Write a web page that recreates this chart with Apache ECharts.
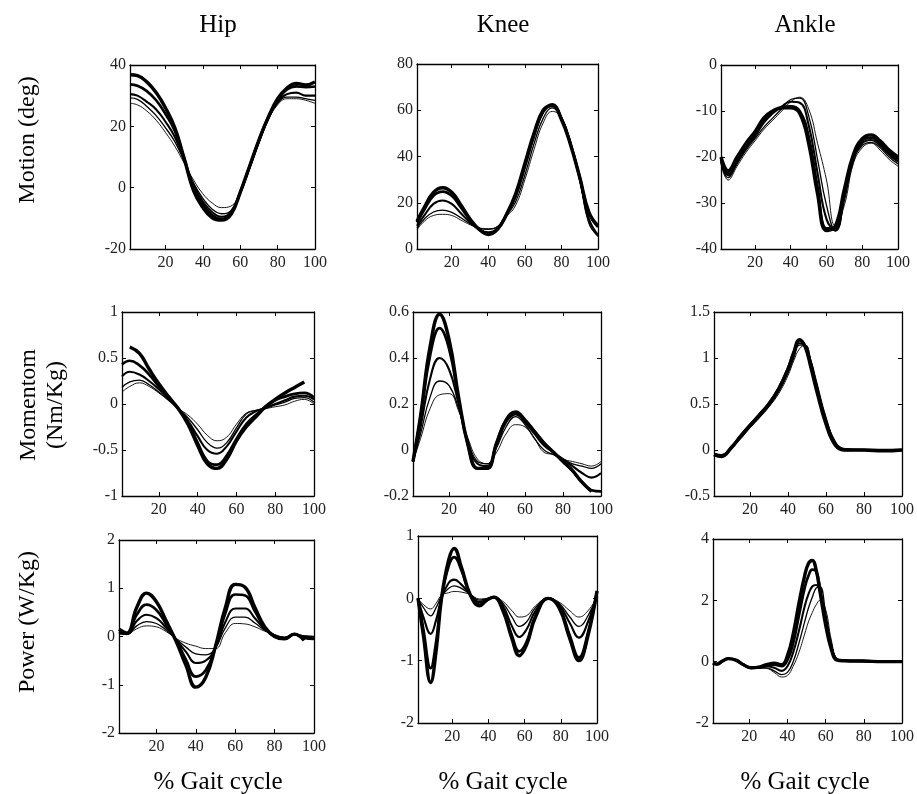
<!DOCTYPE html>
<html><head><meta charset="utf-8">
<script src="https://cdn.jsdelivr.net/npm/echarts@6/dist/echarts.min.js"></script>
<style>html,body{margin:0;padding:0;background:#fff}#c{width:917px;height:794px}</style>
</head><body><div id="c"></div><script>
// ---------- data ----------
const colTitles = ['Hip', 'Knee', 'Ankle'];
const rowTitles = ['Motion (deg)', 'Momentom\n(Nm/Kg)', 'Power (W/Kg)'];
const xLabel = '% Gait cycle';
const xTicks = [20, 40, 60, 80, 100];

const x5 = [1,5,10,15,20,25,30,35,40,45,50,55,60,65,70,75,80,85,90,95,100];

const hipMotion = [
  [36.8,36.5,34.5,31,26,19.5,9.5,-1,-6.5,-9.8,-10.6,-8.8,-1.5,7,15.5,23,29,32.5,34,33.5,34.5],
  [33.7,33.2,31.5,28.5,24,18.5,9.5,0,-5.5,-9,-10.2,-8.5,-1.5,7,15.5,23,28.5,32,33,32.8,33],
  [30.5,30,28,25.5,21.5,16.5,9,1,-4.5,-8,-9.5,-8,-1.5,6.5,15,22.5,28,30.5,31,30,30],
  [29.3,28.8,26.5,23.5,19.5,15,8.5,1.5,-3.5,-7,-8.5,-7.5,-1.5,6.5,15,22.5,27.5,29.5,29.5,29,28.5],
  [27.5,27,25,22,18,13.5,8,2.5,-2,-5,-6.5,-6,-1.5,6,14.5,22,27,29,29,28.5,27.5]
];
const kneeMotion = [
  [12,18,24.5,26.5,24.5,19,13,8.5,6.3,8.5,15,24,37,50,60,62,56,45,31,16,10],
  [11.5,17,23,24.8,23,18,12.5,8.5,6.5,8.5,15,23.5,36.5,49.5,59.5,62.5,56.5,45.5,31,15.5,9.5],
  [10,14.5,19.5,21,19.5,15.5,11.5,8.5,7.2,9,15,22.5,35,48.5,59,62,56.5,45.5,30.5,13,6],
  [9,13,16,16.8,15.8,13.5,11,9,8.5,9.5,14.5,20.5,32,45.5,56.5,61,57,46,30,11.5,5.5],
  [8.3,12,14.5,15,14.5,12.5,10.5,9,8.8,9.8,14,19,30,43,54.5,59.5,57,46,30,11,5.5]
];
const ankleMotion = [
  [-20,-23,-20,-17,-14.5,-11.5,-10,-9.3,-9.3,-10.5,-17,-28,-36,-35,-27,-19.5,-16,-15.2,-16.5,-18.5,-20],
  [-20.5,-23.5,-20.5,-17.5,-15,-12,-10.2,-9.2,-9,-10,-15.5,-26.5,-35.5,-35.5,-27.5,-20,-16.5,-15.8,-17,-19,-20.5],
  [-21,-24,-21,-18,-15.5,-12.5,-10.5,-9,-8,-8.2,-13,-23.5,-33.5,-36,-28.5,-20.5,-17,-16.3,-17.5,-19.5,-21],
  [-21,-24.5,-21.5,-18.5,-16,-13.5,-11.5,-9.5,-7.5,-7.2,-11,-20.5,-30.5,-36,-29.5,-21,-17.5,-16.8,-18,-20,-21.5],
  [-21.5,-25,-22,-19,-16.5,-14,-12,-10,-8,-7,-9.5,-17,-25,-35,-30.5,-21.5,-18,-17,-18.5,-20.5,-22]
];
const hipMoment = [
  [null,0.62,0.55,0.38,0.22,0.08,-0.05,-0.22,-0.45,-0.65,-0.70,-0.6,-0.4,-0.25,-0.14,-0.03,0.05,0.12,0.18,0.24,null],
  [0.43,0.47,0.42,0.32,0.19,0.07,-0.05,-0.2,-0.42,-0.62,-0.66,-0.56,-0.38,-0.22,-0.12,-0.03,0.04,0.08,0.11,0.12,0.07],
  [0.3,0.35,0.32,0.25,0.16,0.06,-0.05,-0.18,-0.35,-0.5,-0.54,-0.46,-0.3,-0.15,-0.08,-0.04,0.0,0.04,0.08,0.09,0.05],
  [0.18,0.24,0.26,0.21,0.13,0.04,-0.05,-0.15,-0.28,-0.42,-0.48,-0.42,-0.26,-0.11,-0.07,-0.05,-0.01,0.02,0.06,0.07,0.02],
  [0.13,0.19,0.23,0.19,0.12,0.04,-0.05,-0.12,-0.22,-0.34,-0.4,-0.36,-0.22,-0.1,-0.07,-0.05,-0.03,-0.01,0.03,0.05,0.0]
];
const kneeMoment = [
  [-0.05,0.15,0.45,0.59,0.48,0.23,0.02,-0.08,-0.08,0.03,0.13,0.165,0.13,0.08,0.03,-0.01,-0.05,-0.09,-0.14,-0.18,null],
  [-0.05,0.14,0.41,0.53,0.44,0.22,0.02,-0.08,-0.08,0.03,0.13,0.16,0.13,0.08,0.03,-0.01,-0.05,-0.09,-0.14,-0.175,-0.18],
  [-0.05,0.1,0.31,0.4,0.35,0.2,0.03,-0.06,-0.07,0.02,0.12,0.155,0.12,0.07,0.02,-0.01,-0.04,-0.07,-0.1,-0.12,-0.1],
  [-0.05,0.07,0.23,0.3,0.28,0.18,0.04,-0.05,-0.06,0.01,0.1,0.145,0.11,0.05,0.0,-0.02,-0.04,-0.06,-0.07,-0.08,-0.06],
  [-0.05,0.05,0.18,0.24,0.245,0.17,0.05,-0.04,-0.06,-0.01,0.07,0.11,0.1,0.05,-0.01,-0.02,-0.04,-0.05,-0.06,-0.07,-0.05]
];
const xAnkleMoment = [1,5,10,15,20,25,30,35,40,43,46,49,52,55,60,65,70,80,90,100];
const ankleMoment = [
  [-0.05,-0.07,0.02,0.15,0.27,0.38,0.5,0.66,0.88,1.06,1.2,1.12,0.9,0.65,0.28,0.05,0.0,0.0,-0.01,0.0],
  [-0.05,-0.06,0.03,0.15,0.27,0.39,0.51,0.67,0.89,1.06,1.19,1.13,0.92,0.67,0.3,0.06,0.0,0.0,0.0,0.0],
  [-0.05,-0.06,0.02,0.14,0.26,0.37,0.49,0.65,0.86,1.03,1.16,1.13,0.95,0.7,0.32,0.07,0.01,0.0,0.0,0.0],
  [-0.04,-0.05,0.02,0.13,0.25,0.36,0.48,0.63,0.84,1.0,1.14,1.14,0.97,0.72,0.34,0.08,0.01,0.0,0.0,0.0],
  [-0.04,-0.05,0.02,0.12,0.24,0.35,0.47,0.61,0.81,0.97,1.1,1.14,0.98,0.75,0.36,0.09,0.01,0.0,0.0,0.0]
];
const hipPower = [
  [0.15,0.07,0.6,0.9,0.72,0.32,-0.1,-0.6,-1.05,-0.85,-0.2,0.6,1.08,1.02,0.6,0.2,0.0,-0.05,0.05,-0.08,null],
  [0.1,0.06,0.45,0.66,0.55,0.25,-0.08,-0.48,-0.83,-0.7,-0.22,0.48,0.87,0.85,0.52,0.18,0.0,-0.04,0.05,-0.03,-0.05],
  [0.08,0.05,0.32,0.45,0.38,0.18,-0.06,-0.32,-0.55,-0.5,-0.23,0.3,0.58,0.58,0.38,0.15,0.02,-0.03,0.04,0.0,-0.02],
  [0.06,0.05,0.22,0.31,0.27,0.13,-0.05,-0.22,-0.36,-0.38,-0.24,0.18,0.4,0.4,0.28,0.13,0.03,-0.02,0.04,0.01,0.0],
  [0.05,0.05,0.16,0.22,0.2,0.1,-0.04,-0.14,-0.2,-0.25,-0.25,0.08,0.27,0.26,0.2,0.11,0.04,-0.01,0.03,0.01,0.0]
];
const xKneePower = [1,4,8,11,14,18,21,25,30,35,39,43,48,53,57,61,66,73,79,85,90,95,100];
const kneePower = [
  [0,-0.6,-1.35,-0.85,0.0,0.62,0.8,0.5,0.05,-0.12,-0.03,0.02,-0.2,-0.65,-0.92,-0.75,-0.3,0.0,-0.15,-0.65,-1.0,-0.6,0.12],
  [0,-0.5,-1.12,-0.7,0.0,0.52,0.66,0.45,0.05,-0.1,-0.03,0.02,-0.18,-0.6,-0.85,-0.7,-0.28,0.0,-0.13,-0.6,-0.95,-0.55,0.1],
  [0,-0.3,-0.57,-0.35,0.0,0.25,0.3,0.22,0.06,-0.06,-0.02,0.02,-0.12,-0.45,-0.62,-0.5,-0.2,0.0,-0.1,-0.4,-0.63,-0.38,0.08],
  [0,-0.15,-0.28,-0.15,0.03,0.16,0.2,0.16,0.06,-0.03,-0.01,0.02,-0.08,-0.3,-0.45,-0.38,-0.15,0.0,-0.08,-0.3,-0.45,-0.28,0.05],
  [0,-0.1,-0.17,-0.08,0.05,0.09,0.11,0.1,0.06,-0.01,0.0,0.02,-0.05,-0.2,-0.3,-0.28,-0.12,0.0,-0.06,-0.2,-0.3,-0.2,0.02]
];
const xAnklePower = [1,3,6,9,13,17,21,25,29,33,37,40,43,46,49,51,53,55,57,60,63,66,70,80,90,100];
const anklePower = [
  [-0.05,-0.08,0.02,0.1,0.05,-0.1,-0.2,-0.18,-0.1,-0.05,-0.1,0.2,0.9,1.9,2.8,3.2,3.3,3.0,2.3,1.2,0.4,0.05,0.03,0.02,0.0,0.0],
  [-0.05,-0.08,0.02,0.1,0.05,-0.1,-0.2,-0.19,-0.12,-0.1,-0.15,0.05,0.6,1.5,2.4,2.8,3.0,2.95,2.4,1.3,0.45,0.06,0.03,0.02,0.0,0.0],
  [-0.05,-0.08,0.02,0.1,0.05,-0.1,-0.2,-0.2,-0.15,-0.2,-0.3,-0.15,0.3,1.0,1.8,2.2,2.45,2.5,2.3,1.4,0.5,0.07,0.03,0.02,0.0,0.0],
  [-0.05,-0.08,0.02,0.1,0.05,-0.1,-0.2,-0.2,-0.2,-0.3,-0.42,-0.35,0.0,0.6,1.3,1.75,2.1,2.4,2.45,1.6,0.6,0.08,0.03,0.02,0.0,0.0],
  [-0.05,-0.08,0.02,0.1,0.05,-0.1,-0.2,-0.21,-0.22,-0.35,-0.5,-0.45,-0.15,0.3,0.9,1.3,1.6,1.85,2.0,1.7,0.7,0.1,0.03,0.02,0.0,0.0]
];
const yRanges = [[-20,40,20],[0,80,20],[-40,0,10],[-1,1,0.5],[-0.2,0.6,0.2],[-0.5,1.5,0.5],[-2,2,1],[-2,1,1],[-2,4,2]];

// ---------- layout / style ----------
const panels = [
  {x: x5, ys: hipMotion}, {x: x5, ys: kneeMotion}, {x: x5, ys: ankleMotion},
  {x: x5, ys: hipMoment}, {x: x5, ys: kneeMoment}, {x: xAnkleMoment, ys: ankleMoment},
  {x: x5, ys: hipPower}, {x: xKneePower, ys: kneePower}, {x: xAnklePower, ys: anklePower}
];
const gridBoxes = [
  [130,65,185,184],[417,64,181,185],[721,65,177,184],
  [122,312,192,184],[413,312,188,184],[714,312,191,184],
  [119,540,195,193],[418,536,179,187],[713,539,193,184]
];
const widths = [3.4, 2.7, 2.1, 1.3, 0.9];
const FONT = '"Liberation Serif","Times New Roman",serif';
const lineAx = {show: true, onZero: false, lineStyle: {color: '#000', width: 1.3}};
const tickAx = (vals) => ({show: true, inside: true, length: 4, lineStyle: {color: '#000', width: 1}, customValues: vals});

const grid = [], xAxis = [], yAxis = [], series = [];
panels.forEach((p, i) => {
  const [l, t, w, h] = gridBoxes[i];
  grid.push({left: l, top: t, width: w, height: h, containLabel: false});
  const base = {type: 'value', gridIndex: i, min: 1, max: 100, splitLine: {show: false}, axisLine: lineAx};
  xAxis.push(Object.assign({}, base, {position: 'bottom', axisTick: tickAx(xTicks),
    axisLabel: {customValues: xTicks, color: '#222', fontFamily: FONT, fontSize: 16, margin: 6}}));
  xAxis.push(Object.assign({}, base, {position: 'top', axisTick: tickAx(xTicks), axisLabel: {show: false}}));
  const [mn, mx, iv] = yRanges[i];
  const ybase = {type: 'value', gridIndex: i, min: mn, max: mx, interval: iv, splitLine: {show: false}, axisLine: lineAx,
    axisTick: {show: true, inside: true, length: 4, lineStyle: {color: '#000', width: 1}}};
  yAxis.push(Object.assign({}, ybase, {position: 'left',
    axisLabel: {color: '#222', fontFamily: FONT, fontSize: 16, margin: 4}}));
  yAxis.push(Object.assign({}, ybase, {position: 'right', axisLabel: {show: false}}));
  p.ys.forEach((ys, j) => {
    const data = [];
    p.x.forEach((xv, k) => { if (ys[k] !== null && ys[k] !== undefined) data.push([xv, ys[k]]); });
    series.push({type: 'line', xAxisIndex: 2 * i, yAxisIndex: 2 * i, data: data, smooth: 0.45,
      showSymbol: false, symbol: 'none', lineStyle: {color: '#000', width: widths[j]}, z: 2 + j});
  });
});

const graphic = [];
const colCenters = [218, 503, 805];
colTitles.forEach((t, i) => graphic.push({type: 'text', x: colCenters[i], y: 25,
  style: {text: t, fill: '#000', font: '25px ' + FONT, textAlign: 'center', textVerticalAlign: 'middle'}}));
colTitles.forEach((t, i) => graphic.push({type: 'text', x: colCenters[i], y: 782,
  style: {text: xLabel, fill: '#000', font: '25px ' + FONT, textAlign: 'center', textVerticalAlign: 'middle'}}));
const rowCenters = [[28, 140], [42, 405], [28, 622]];
rowTitles.forEach((t, i) => graphic.push({type: 'text', x: rowCenters[i][0], y: rowCenters[i][1], rotation: Math.PI / 2,
  style: {text: t, fill: '#000', font: '24px ' + FONT, textAlign: 'center', textVerticalAlign: 'middle', lineHeight: 27}}));

const chart = echarts.init(document.getElementById('c'), null, {renderer: 'canvas'});
chart.setOption({animation: false, backgroundColor: '#fff', grid, xAxis, yAxis, series, graphic});
</script></body></html>
